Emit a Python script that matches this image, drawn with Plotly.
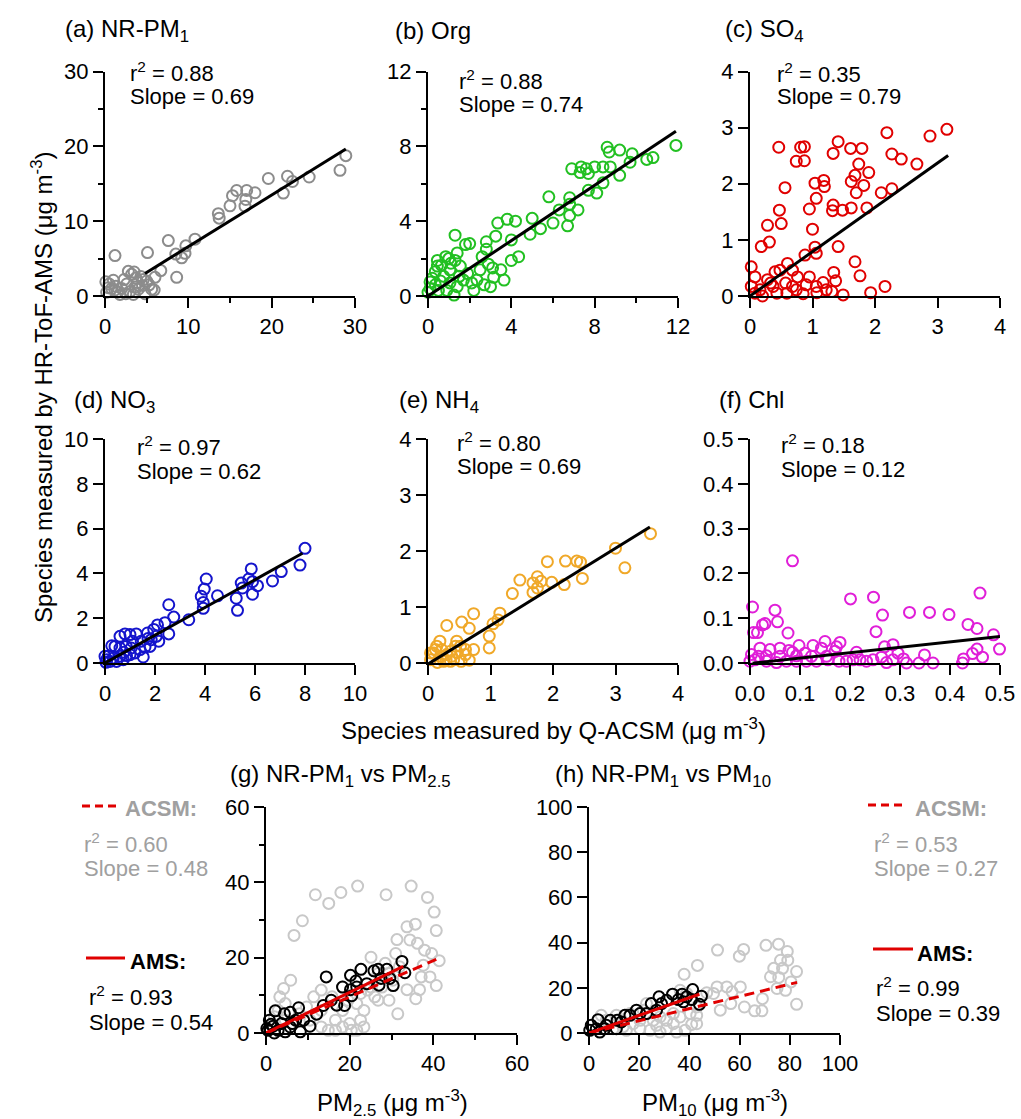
import plotly.graph_objects as go

W, H = 1021, 1119

# ---------------- data (Q-ACSM x, HR-ToF-AMS y) ----------------
nrpm1_pts = [(28.9, 18.75), (28.2, 16.8), (24.5, 15.9), (22.5, 15.3), (21.9, 16.0), (21.4, 13.75),
             (19.6, 15.7), (18.0, 13.8), (17.0, 14.1), (16.9, 12.9), (16.8, 12.0), (15.8, 14.1),
             (15.3, 13.4), (15.0, 12.05), (13.6, 11.0), (13.7, 10.4), (10.8, 7.6), (9.7, 6.7),
             (9.6, 5.7), (9.2, 5.1), (8.5, 5.6), (7.6, 7.4), (8.6, 2.5), (6.7, 3.4), (5.1, 5.8),
             (6.0, 2.5), (5.9, 0.8), (1.2, 5.4), (0.1, 1.9), (0.2, 0.5), (0.5, 1.6), (0.8, 1.0),
             (1.0, 2.1), (1.3, 1.3), (1.5, 0.5), (1.8, 0.2), (2.0, 1.0), (2.3, 2.2), (2.6, 1.6),
             (2.8, 3.3), (3.0, 0.6), (3.2, 2.9), (3.4, 0.2), (3.5, 3.2), (3.6, 1.2), (3.7, 2.4),
             (4.0, 0.9), (4.3, 2.6), (4.5, 1.4), (4.8, 0.3), (5.0, 2.0), (5.3, 1.5), (5.6, 0.9),
             (2.5, 0.3), (1.2, 0.8), (0.4, 1.1), (3.9, 1.8), (4.6, 2.2)]

org_pts = [(11.9, 8.05), (10.8, 7.4), (10.5, 7.3), (9.8, 7.6), (9.7, 7.15), (9.2, 6.45), (9.2, 7.8),
           (8.7, 7.7), (8.6, 7.95), (8.75, 6.9), (8.4, 6.9), (8.0, 6.9), (7.6, 6.8), (7.35, 6.9),
           (7.3, 6.6), (6.9, 6.8), (7.7, 6.55), (8.4, 6.05), (8.1, 5.5), (7.7, 5.65), (7.2, 4.6),
           (6.8, 4.9), (6.8, 5.25), (6.7, 3.75), (6.8, 4.3), (6.3, 4.6), (6.0, 3.9), (5.8, 5.3),
           (5.4, 3.6), (5.0, 4.15), (4.9, 3.3), (4.2, 4.0), (3.8, 4.1), (3.35, 3.9), (4.0, 3.0),
           (4.35, 2.1), (4.0, 1.9), (3.25, 3.2), (2.8, 2.9), (2.8, 2.5), (2.5, 1.4), (3.5, 1.4),
           (3.65, 0.85), (3.15, 1.0), (2.7, 0.6), (2.1, 0.7), (2.2, 0.3), (2.0, 2.8), (1.8, 2.75),
           (1.3, 3.25), (1.4, 2.3), (1.3, 1.9), (0.85, 2.1), (0.45, 1.9), (0.45, 1.6), (1.05, 1.4),
           (1.55, 1.6), (1.7, 0.85), (1.4, 0.5), (1.25, 0.05), (0.9, 0.3), (0.6, 0.8), (0.35, 0.6),
           (0.1, 0.4), (0.0, 0.2), (0.2, 0.95), (0.75, 1.05), (1.05, 0.7), (1.9, 1.2), (3.0, 0.5),
           (2.35, 0.85), (0.5, 0.3), (1.5, 1.05), (0.65, 1.65), (1.1, 1.75), (0.35, 1.3),
           (0.1, 0.75), (2.6, 2.1), (3.1, 1.5), (1.0, 2.0), (2.9, 1.7)]

so4_pts = [(3.15, 2.97), (2.88, 2.85), (2.19, 2.91), (2.67, 2.35), (2.42, 2.44), (2.27, 2.53),
           (2.27, 1.91), (2.10, 1.84), (1.90, 2.20), (1.79, 2.63), (1.74, 2.35), (1.61, 2.63),
           (1.41, 2.75), (1.33, 2.54), (1.68, 2.15), (1.62, 2.04), (1.82, 1.97), (1.70, 1.84),
           (1.87, 1.57), (1.62, 1.57), (1.48, 1.53), (1.33, 1.62), (1.32, 1.52), (1.18, 2.06),
           (1.19, 1.95), (1.04, 2.01), (1.06, 1.74), (0.95, 1.55), (1.0, 1.19), (1.41, 0.88),
           (1.06, 0.76), (1.04, 0.87), (0.88, 0.73), (1.68, 0.61), (1.76, 0.36), (1.34, 0.42),
           (1.37, 0.27), (1.31, 0.08), (1.49, 0.02), (1.93, 0.06), (2.16, 0.17), (0.87, 2.66),
           (0.81, 2.65), (0.74, 2.40), (0.87, 2.41), (0.46, 2.65), (0.56, 1.93), (0.47, 1.53),
           (0.50, 1.29), (0.28, 1.26), (0.31, 0.96), (0.18, 0.88), (0.02, 0.52), (0.08, 0.34),
           (0.60, 0.58), (0.40, 0.43), (0.48, 0.46), (0.68, 0.46), (0.76, 0.34), (0.95, 0.34),
           (1.17, 0.24), (0.57, 0.23), (0.28, 0.29), (0.16, 0.11), (0.02, 0.17), (0.2, 0.0),
           (0.43, 0.05), (0.59, 0.05), (0.85, 0.04), (1.07, 0.06), (0.9, 0.2), (0.68, 0.17),
           (0.33, 0.23), (0.08, 0.05), (0.37, 0.17), (1.06, 0.17), (1.22, 0.11), (0.74, 0.11)]

no3_pts = [(8.0, 5.12), (7.8, 4.37), (7.05, 4.08), (6.7, 3.66), (6.1, 3.45), (5.9, 3.63),
           (5.85, 4.2), (5.9, 3.07), (5.75, 3.75), (5.45, 3.57), (5.5, 3.35), (5.25, 2.89),
           (5.3, 2.35), (4.5, 3.0), (4.05, 3.75), (3.97, 3.3), (3.85, 2.98), (3.93, 2.7),
           (3.93, 2.44), (3.35, 1.93), (2.75, 2.05), (2.55, 2.6), (2.55, 1.3), (2.4, 1.8),
           (2.1, 1.7), (1.95, 1.5), (1.7, 1.34), (1.53, 0.27), (1.6, 0.71), (1.8, 0.74),
           (2.05, 1.19), (2.15, 0.97), (1.85, 1.04), (1.25, 1.3), (1.0, 1.27), (0.8, 1.3),
           (0.6, 1.19), (0.4, 0.74), (0.27, 0.77), (0.85, 0.74), (1.1, 0.97), (1.05, 0.67),
           (0.75, 0.48), (1.45, 0.97), (1.4, 0.6), (1.2, 0.45), (1.0, 0.37), (0.6, 0.3),
           (0.33, 0.22), (0.13, 0.3), (0.07, 0.15), (0.04, 0.03), (0.2, 0.07), (0.46, 0.07),
           (0.73, 0.15), (0.0, 0.3), (0.86, 0.33), (0.6, 0.67), (1.72, 1.09)]

nh4_pts = [(3.56, 2.31), (3.0, 2.05), (3.15, 1.70), (2.47, 1.51), (2.44, 1.80), (2.38, 1.82),
           (2.2, 1.82), (2.18, 1.40), (1.98, 1.44), (1.91, 1.81), (1.81, 1.46), (1.75, 1.54),
           (1.75, 1.34), (1.68, 1.26), (1.68, 1.43), (1.47, 1.48), (1.35, 1.24), (1.15, 0.89),
           (1.12, 0.77), (1.04, 0.70), (0.98, 0.48), (0.98, 0.27), (0.73, 0.88), (0.66, 0.62),
           (0.54, 0.73), (0.30, 0.67), (0.73, 0.24), (0.66, 0.05), (0.6, 0.15), (0.47, 0.19),
           (0.46, 0.39), (0.44, 0.30), (0.36, 0.21), (0.41, 0.06), (0.29, 0.05), (0.19, 0.39),
           (0.14, 0.30), (0.09, 0.18), (0.2, 0.12), (0.25, 0.03), (0.04, 0.06), (0.15, 0.01),
           (0.36, 0.03), (0.53, 0.03), (0.3, 0.15), (0.52, 0.30), (0.12, 0.24), (0.22, 0.24),
           (0.38, 0.12), (0.04, 0.18), (0.6, 0.24)]

chl_pts = [(0.085, 0.228), (0.46, 0.156), (0.247, 0.147), (0.201, 0.143), (0.005, 0.125),
           (0.05, 0.118), (0.319, 0.113), (0.359, 0.113), (0.398, 0.108), (0.265, 0.107),
           (0.055, 0.092), (0.03, 0.088), (0.025, 0.085), (0.436, 0.086), (0.454, 0.077),
           (0.007, 0.068), (0.015, 0.068), (0.076, 0.067), (0.252, 0.07), (0.487, 0.063),
           (0.499, 0.031), (0.454, 0.031), (0.445, 0.021), (0.465, 0.013), (0.427, 0.009),
           (0.425, 0.0), (0.349, 0.018), (0.366, 0.0), (0.338, 0.0), (0.307, 0.009),
           (0.286, 0.041), (0.269, 0.036), (0.296, 0.022), (0.286, 0.007), (0.263, 0.013),
           (0.246, 0.007), (0.233, 0.004), (0.213, 0.024), (0.206, 0.007), (0.18, 0.046),
           (0.173, 0.036), (0.17, 0.026), (0.178, 0.004), (0.15, 0.048), (0.143, 0.033),
           (0.126, 0.039), (0.11, 0.022), (0.098, 0.039), (0.085, 0.024), (0.078, 0.028),
           (0.06, 0.033), (0.04, 0.030), (0.02, 0.033), (0.003, 0.019), (0.0, 0.004),
           (0.01, 0.007), (0.033, 0.004), (0.053, 0.001), (0.073, 0.004), (0.093, 0.004),
           (0.113, 0.004), (0.133, 0.004), (0.156, 0.007), (0.017, 0.015), (0.033, 0.016),
           (0.06, 0.015), (0.093, 0.016), (0.123, 0.015), (0.153, 0.015), (0.193, 0.004),
           (0.22, 0.007), (0.313, 0.0), (0.273, 0.001)]

# PM2.5 (x) vs NR-PM1 (y)
pm25_acsm_pts = [(11.8, 36.7), (15.0, 34.4), (17.9, 37.3), (21.9, 39.0), (28.7, 36.7), (34.7, 39.0),
                 (38.6, 36.0), (40.2, 32.1), (40.7, 27.2), (8.7, 29.8), (6.7, 25.9), (33.7, 28.2),
                 (35.7, 28.9), (31.3, 24.8), (34.4, 24.7), (36.2, 23.8), (37.9, 22.0), (39.6, 21.1),
                 (41.4, 19.2), (25.1, 20.1), (28.5, 18.5), (40.7, 12.6), (39.2, 14.9), (37.1, 14.9),
                 (36.7, 11.5), (35.8, 9.1), (33.7, 11.5), (31.5, 5.1), (30.3, 14.0), (27.7, 12.2),
                 (26.0, 9.6), (24.3, 11.4), (22.6, 10.5), (21.7, 7.8), (19.6, 8.7), (18.3, 6.0),
                 (16.6, 3.4), (14.9, 0.7), (13.2, 1.6), (16.6, 0.7), (20.0, 2.5), (22.6, 3.4),
                 (23.4, 6.0), (18.3, 12.2), (15.8, 9.6), (13.2, 11.4), (11.4, 9.6), (9.7, 6.9),
                 (8.0, 5.1), (5.9, 14.0), (4.2, 11.8), (3.3, 9.6), (4.6, 7.8), (2.9, 6.0),
                 (2.0, 4.3), (4.6, 3.4), (26.8, 15.8), (29.4, 15.8), (31.9, 17.6), (31.0, 21.1),
                 (26.8, 8.7), (29.4, 8.7), (10.5, 3.4), (13.2, 6.0), (20.4, 0.7), (21.7, 0.7),
                 (23.4, 1.6), (18.3, 1.6), (25.1, 12.2), (37.6, 18.0)]

pm25_ams_pts = [(32.5, 19.0), (33.2, 16.0), (30.4, 12.6), (28.9, 16.9), (26.8, 16.9), (25.8, 16.5),
                (27.0, 12.7), (22.7, 16.9), (20.2, 15.3), (21.5, 13.8), (21.7, 12.2), (20.2, 11.5),
                (18.3, 12.2), (18.8, 7.3), (20.5, 9.9), (14.4, 14.9), (13.7, 7.3), (12.1, 5.0),
                (10.5, 1.8), (9.0, 3.4), (7.8, 6.7), (5.8, 5.5), (5.8, 1.6), (8.2, 0.3), (4.4, 5.1),
                (2.2, 5.9), (0.8, 3.4), (1.7, 1.8), (0.5, 0.7), (2.9, 0.7), (3.7, 2.5), (1.2, 2.3),
                (4.6, 0.3), (7.1, 3.4), (6.3, 2.5), (2.0, 0.0), (15.6, 8.7), (16.9, 7.4),
                (24.1, 13.1), (27.5, 14.5), (0.2, 1.2), (29.6, 14.5)]

# PM10 (x) vs NR-PM1 (y)
pm10_acsm_pts = [(51.2, 36.7), (59.9, 34.0), (61.6, 37.0), (70.5, 38.8), (75.5, 39.3), (79.0, 36.1),
                 (79.2, 32.2), (76.3, 32.2), (73.6, 28.6), (77.1, 28.6), (82.7, 27.2), (72.3, 24.9),
                 (75.6, 24.6), (80.5, 22.6), (74.9, 19.7), (78.3, 18.9), (82.7, 12.7), (69.1, 15.2),
                 (68.9, 9.8), (66.0, 9.8), (61.9, 11.5), (56.5, 13.0), (52.3, 10.1), (51.0, 20.4),
                 (54.9, 20.4), (60.3, 20.4), (57.0, 18.2), (49.6, 17.5), (46.9, 17.8), (43.2, 29.9),
                 (37.9, 26.0), (38.9, 17.5), (36.3, 18.9), (42.9, 11.5), (42.9, 7.8), (40.9, 3.8),
                 (38.3, 1.2), (33.6, 4.1), (30.9, 1.9), (26.9, 3.4), (24.3, 1.2), (20.3, 1.9),
                 (17.6, 4.1), (13.6, 2.7), (9.6, 1.9), (6.9, 5.6), (4.9, 7.8), (10.9, 7.8),
                 (16.3, 8.6), (21.6, 10.1), (22.9, 13.0), (28.3, 7.1), (33.6, 8.6), (36.3, 7.1),
                 (40.3, 8.6), (42.9, 4.1), (14.9, 1.2), (28.3, 0.4), (34.9, 0.4), (25.6, 5.6),
                 (30.9, 5.6), (20.3, 5.6)]

pm10_ams_pts = [(41.3, 19.2), (44.8, 16.3), (44.0, 12.7), (40.9, 14.8), (37.1, 17.2), (33.3, 17.2),
                (27.9, 16.0), (24.8, 13.0), (26.9, 10.1), (22.9, 8.6), (20.3, 8.6), (16.3, 7.8),
                (14.3, 7.8), (11.2, 5.6), (8.5, 5.6), (3.6, 5.9), (0.9, 3.4), (6.3, 1.9),
                (10.9, 1.9), (2.9, 1.9), (0.3, 1.2), (4.3, 0.4), (37.6, 13.8), (38.9, 16.0),
                (30.9, 14.5), (28.9, 13.0), (35.6, 14.8), (18.9, 10.1), (12.9, 4.9), (6.9, 3.4)]

# regression lines: slope, intercept, x-start, x-end
fit_nrpm1 = (0.69, -0.3, 4.8, 28.9)
fit_org = (0.74, 0.0, 0.0, 11.9)
fit_so4 = (0.79, 0.0, 0.0, 3.17)
fit_no3 = (0.62, 0.0, 0.0, 7.9)
fit_nh4 = (0.69, -0.02, 0.0, 3.55)
fit_chl = (0.12, -0.001, 0.005, 0.5)
fit_pm25_ams = (0.54, 0.0, 0.0, 32.8)
fit_pm25_acsm = (0.48, 0.0, 0.0, 40.7)
fit_pm10_ams = (0.39, 0.0, 0.0, 44.0)
fit_pm10_acsm = (0.27, 0.0, 0.0, 82.9)

r2_values = ["0.88", "0.88", "0.35", "0.97", "0.80", "0.18"]
slope_values = ["0.69", "0.74", "0.79", "0.62", "0.69", "0.12"]
panel_titles = ["(a) NR-PM<sub>1</sub>", "(b) Org", "(c) SO<sub>4</sub>",
                "(d) NO<sub>3</sub>", "(e) NH<sub>4</sub>", "(f) Chl",
                "(g) NR-PM<sub>1</sub> vs PM<sub>2.5</sub>", "(h) NR-PM<sub>1</sub> vs PM<sub>10</sub>"]

# ---------------- layout helpers ----------------
FONT = "Liberation Sans, Arial, sans-serif"
TICKF = 22

def px(x):
    return x / W

def py(y):
    return 1 - y / H

panels = [
    dict(xd=(105, 355), yd=(71.5, 296), rng=[0, 30], dt=10, mdt=5, fmt=None),
    dict(xd=(428, 678), yd=(71.5, 296), rng=[0, 12], dt=4, mdt=2, fmt=None),
    dict(xd=(750, 1000), yd=(71.5, 296), rng=[0, 4], dt=1, mdt=None, fmt=None),
    dict(xd=(105, 355), yd=(439, 663), rng=[0, 10], dt=2, mdt=None, fmt=None),
    dict(xd=(428, 678), yd=(439, 663), rng=[0, 4], dt=1, mdt=None, fmt=None),
    dict(xd=(750, 1000), yd=(439, 663), rng=[0, 0.5], dt=0.1, mdt=None, fmt=".1f"),
    dict(xd=(266, 517), yd=(807, 1033), rng=[0, 60], dt=20, mdt=10, fmt=None),
    dict(xd=(589, 840), yd=(807, 1033), rng=[0, 100], dt=20, mdt=None, fmt=None),
]

fig = go.Figure()
layout = dict(template="none", width=W, height=H, autosize=False,
              margin=dict(l=0, r=0, t=0, b=0, pad=0),
              paper_bgcolor="white", plot_bgcolor="white", showlegend=False,
              font=dict(family=FONT, size=TICKF, color="black"))

for i, p in enumerate(panels, start=1):
    sfx = "" if i == 1 else str(i)
    common = dict(range=p["rng"], dtick=p["dt"], tick0=0, showgrid=False, zeroline=False,
                  automargin=False,
                  showline=True, linecolor="black", linewidth=2, ticks="outside",
                  ticklen=10, tickwidth=2, tickcolor="black",
                  tickfont=dict(family=FONT, size=TICKF, color="black"), fixedrange=True)
    if p["fmt"]:
        common["tickformat"] = p["fmt"]
    if p["mdt"]:
        common["minor"] = dict(dtick=p["mdt"], ticks="outside", ticklen=5, tickwidth=2,
                               tickcolor="black", showgrid=False)
    layout["xaxis" + sfx] = dict(domain=[px(p["xd"][0]), px(p["xd"][1])], anchor="y" + sfx, **common)
    layout["yaxis" + sfx] = dict(domain=[py(p["yd"][1]), py(p["yd"][0])], anchor="x" + sfx, **common)

fig.update_layout(**layout)


def add_pts(pts, color, i, size=11):
    xs, ys = zip(*pts)
    sfx = "" if i == 1 else str(i)
    fig.add_trace(go.Scatter(x=list(xs), y=list(ys), mode="markers", xaxis="x" + sfx, yaxis="y" + sfx,
                             cliponaxis=False, hoverinfo="skip",
                             marker=dict(symbol="circle-open", size=size, color=color,
                                         line=dict(width=2, color=color))))


def add_fit(fit, color, i, dash="solid"):
    s, b, x0, x1 = fit
    sfx = "" if i == 1 else str(i)
    fig.add_trace(go.Scatter(x=[x0, x1], y=[s * x0 + b, s * x1 + b], mode="lines",
                             xaxis="x" + sfx, yaxis="y" + sfx, cliponaxis=False, hoverinfo="skip",
                             line=dict(color=color, width=3, dash=dash)))


species = [(nrpm1_pts, "#8c8c8c", fit_nrpm1), (org_pts, "#22c022", fit_org),
           (so4_pts, "#e00000", fit_so4), (no3_pts, "#1414cc", fit_no3),
           (nh4_pts, "#f0a828", fit_nh4), (chl_pts, "#e01ed8", fit_chl)]
for i, (pts, col, fit) in enumerate(species, start=1):
    add_pts(pts, col, i)
    add_fit(fit, "black", i)

LGRAY = "#c8c8c8"
add_pts(pm25_acsm_pts, LGRAY, 7)
add_pts(pm25_ams_pts, "black", 7)
add_fit(fit_pm25_acsm, "#e00000", 7, dash="10px,6px")
add_fit(fit_pm25_ams, "#e00000", 7)
add_pts(pm10_acsm_pts, LGRAY, 8)
add_pts(pm10_ams_pts, "black", 8)
add_fit(fit_pm10_acsm, "#e00000", 8, dash="10px,6px")
add_fit(fit_pm10_ams, "#e00000", 8)

# ---------------- annotations ----------------
ann = []


def text(x, y, s, size=22, color="black", xanchor="left", angle=0):
    ann.append(dict(x=px(x), y=py(y), xref="paper", yref="paper", text=s, showarrow=False,
                    xanchor=xanchor, yanchor="middle", textangle=angle,
                    font=dict(family=FONT, size=size, color=color)))


title_pos = [(63, 31), (393, 31), (723, 31), (72, 401), (397, 401), (717, 399), (228, 775), (553, 775)]
for (x, y), t in zip(title_pos, panel_titles):
    text(x, y, t, size=24)

stat_pos = [(128, 72, 96), (457, 80, 104), (775, 73, 97), (135, 446, 471), (455, 442, 466), (779, 444, 469)]
for (x, y1, y2), r2, sl in zip(stat_pos, r2_values, slope_values):
    text(x, y1, "r<sup>2</sup> = " + r2)
    text(x, y2, "Slope = " + sl)

text(42, 387, "Species measured by HR-ToF-AMS (μg m<sup>-3</sup>)", size=24, xanchor="center", angle=-90)
text(553, 729, "Species measured by Q-ACSM (μg m<sup>-3</sup>)", size=24, xanchor="center")
text(392, 1103, "PM<sub>2.5</sub> (μg m<sup>-3</sup>)", size=24, xanchor="center")
text(715, 1103, "PM<sub>10</sub> (μg m<sup>-3</sup>)", size=24, xanchor="center")

GTXT = "#a0a0a0"
# (g) legend block
text(123, 808, "<b>ACSM:</b>", color=GTXT)
text(82, 843, "r<sup>2</sup> = 0.60", color=GTXT)
text(82, 868, "Slope = 0.48", color=GTXT)
text(128, 961, "<b>AMS:</b>")
text(87, 996, "r<sup>2</sup> = 0.93")
text(87, 1022, "Slope = 0.54")
# (h) legend block
text(913, 808, "<b>ACSM:</b>", color=GTXT)
text(872, 843, "r<sup>2</sup> = 0.53", color=GTXT)
text(872, 868, "Slope = 0.27", color=GTXT)
text(915, 953, "<b>AMS:</b>")
text(874, 987, "r<sup>2</sup> = 0.99")
text(874, 1013, "Slope = 0.39")

shapes = []
for (x0, x1, y, dash) in [(82, 121, 806, "8px,5px"), (86, 125, 958, "solid"),
                          (868, 907, 805, "8px,5px"), (873, 913, 949, "solid")]:
    shapes.append(dict(type="line", xref="paper", yref="paper", x0=px(x0), x1=px(x1), y0=py(y), y1=py(y),
                       line=dict(color="#e00000", width=3, dash=dash)))

fig.update_layout(annotations=ann, shapes=shapes)
fig.write_html("out.html", config={"displayModeBar": False, "staticPlot": True},
               post_script="document.body.style.margin='0px';document.body.style.overflow='hidden';")
